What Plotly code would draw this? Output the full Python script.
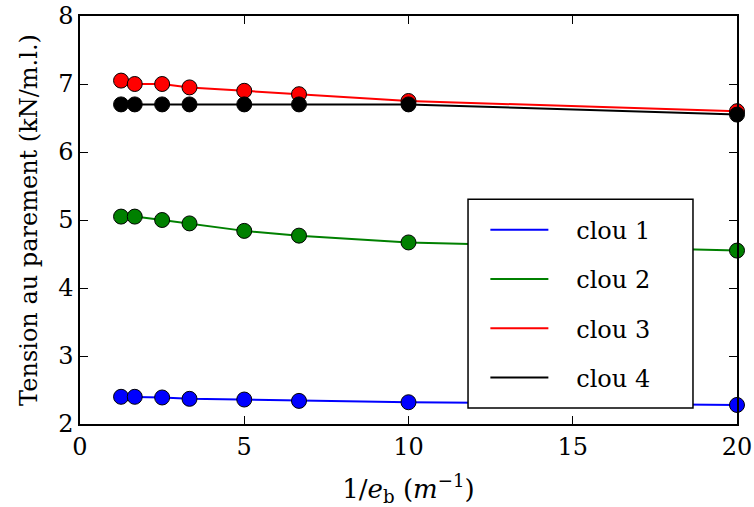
import plotly.graph_objects as go

x_vals = [1.25, 1.6667, 2.5, 3.3333, 5.0, 6.6667, 10.0, 20.0]
clou1 = [2.40, 2.40, 2.39, 2.37, 2.36, 2.34, 2.32, 2.28]
clou2 = [5.05, 5.05, 5.00, 4.95, 4.84, 4.77, 4.67, 4.55]
clou3 = [7.05, 7.00, 7.00, 6.95, 6.90, 6.85, 6.75, 6.60]
clou4 = [6.70, 6.70, 6.70, 6.70, 6.70, 6.70, 6.70, 6.55]
names = ["clou 1", "clou 2", "clou 3", "clou 4"]
colors = ["#0000ff", "#008000", "#ff0000", "#000000"]
series = [clou1, clou2, clou3, clou4]

FONT = "DejaVu Serif"
fig = go.Figure()
for name, col, ys in zip(names, colors, series):
    fig.add_trace(go.Scatter(
        x=x_vals, y=ys, mode="lines", name="\u00a0\u00a0\u00a0" + name,
        line=dict(color=col, width=2), legendgroup=name, showlegend=True, cliponaxis=False))
for name, col, ys in zip(names, colors, series):
    fig.add_trace(go.Scatter(
        x=x_vals, y=ys, mode="markers", name=name, showlegend=False,
        marker=dict(color=col, size=15, line=dict(color="black", width=1)),
        legendgroup=name, cliponaxis=False))

axis_common = dict(
    showline=True, linecolor="black", linewidth=1.5, mirror="allticks",
    ticks="inside", ticklen=8, tickcolor="black", tickwidth=1,
    showgrid=False, zeroline=False, automargin=False, ticklabeloverflow="allow",
    tickfont=dict(family=FONT, size=24, color="black"),
)
fig.update_layout(
    width=754, height=507,
    margin=dict(l=80, r=17, t=16, b=83),
    paper_bgcolor="white", plot_bgcolor="white",
    font=dict(family=FONT, color="black"),
    xaxis=dict(range=[0, 20], tickvals=[0, 5, 10, 15, 20],
               title=dict(text="1/<i>e</i><sub>b</sub> (<i>m</i><sup>\u22121</sup>)",
                          font=dict(family=FONT, size=26), standoff=24),
               **axis_common),
    yaxis=dict(range=[2, 8], tickvals=[2, 3, 4, 5, 6, 7, 8],
               title=dict(text="Tension au parement (kN/m.l.)",
                          font=dict(family=FONT, size=24), standoff=14),
               **axis_common),
    legend=dict(x=0.617, y=0.53, xanchor="left", yanchor="top",
                bgcolor="rgba(0,0,0,0)", borderwidth=0,
                font=dict(family=FONT, size=24, color="black"),
                tracegroupgap=15, traceorder="grouped", itemwidth=58),
    shapes=[dict(type="rect", xref="paper", yref="paper",
                 x0=0.5906, x1=0.933, y0=0.039, y1=0.551,
                 line=dict(color="black", width=1.5), fillcolor="white",
                 layer="above")],
)
fig.write_html("out.html", config={"displayModeBar": False},
               post_script="document.body.style.margin='0';document.body.style.overflow='hidden';")
